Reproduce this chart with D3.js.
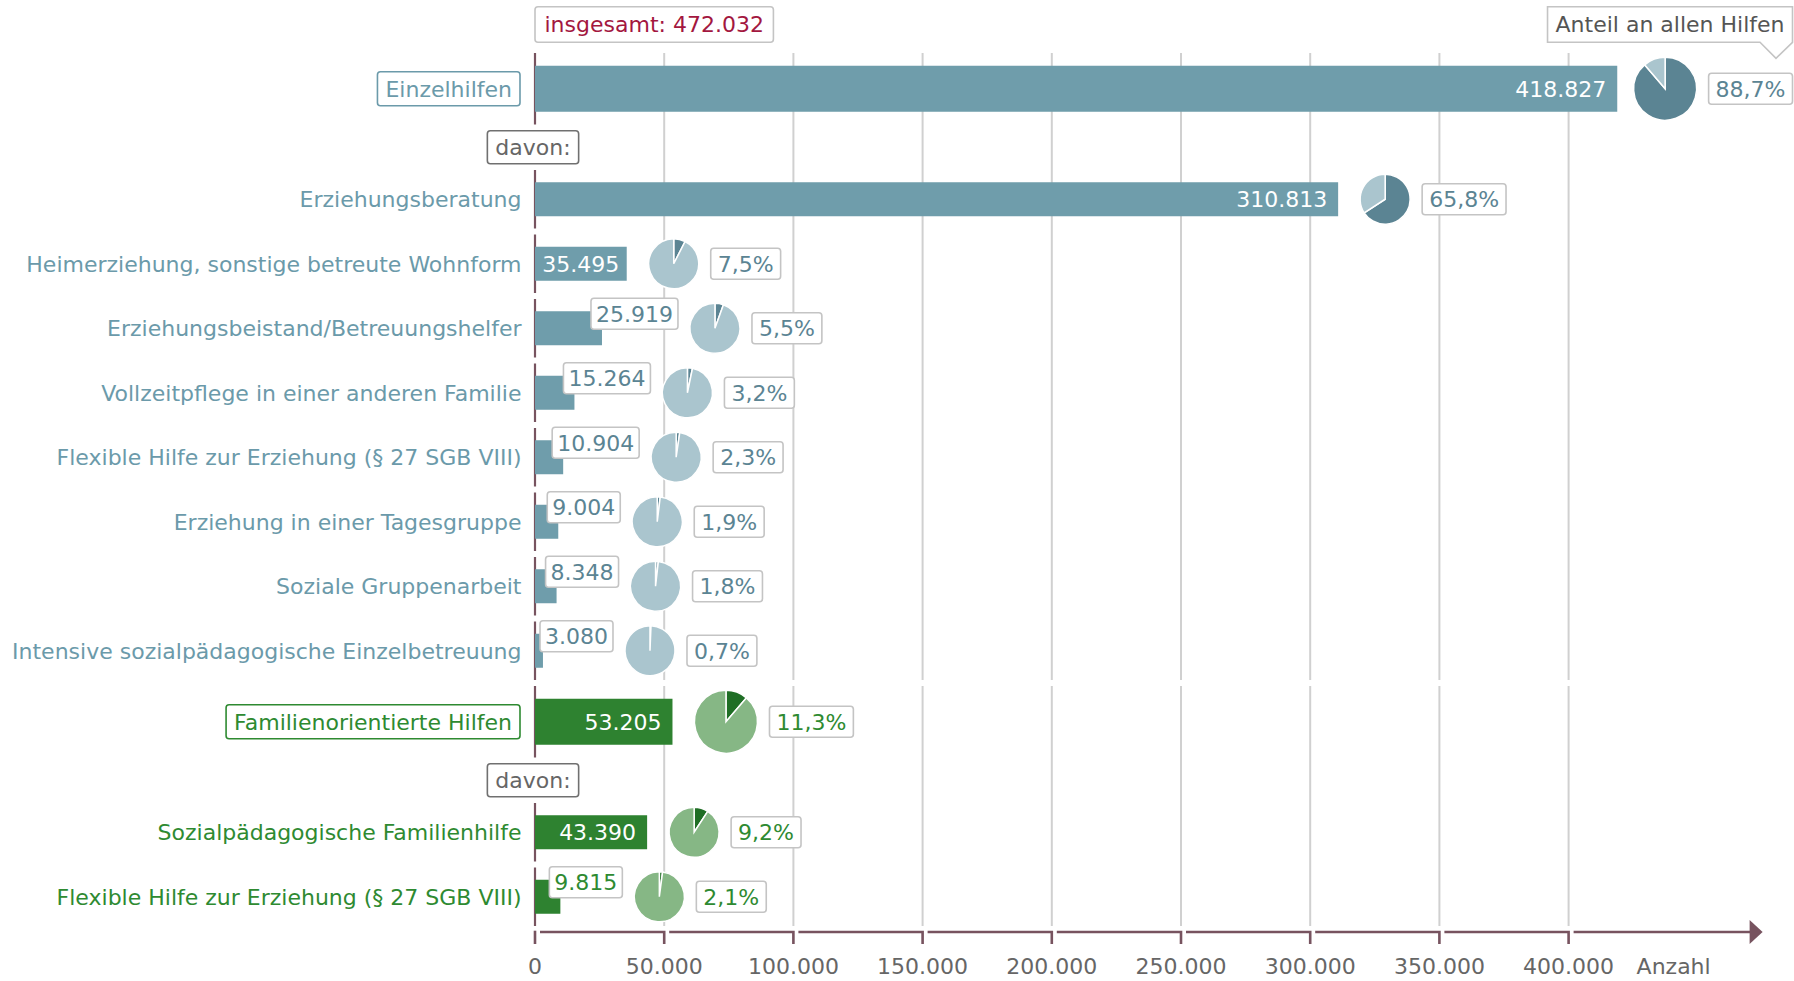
<!DOCTYPE html>
<html>
<head>
<meta charset="utf-8">
<script src="https://cdn.jsdelivr.net/npm/d3@7"></script>
<style>
  body { margin: 0; background: #fff; }
  svg { display: block; font-family: "DejaVu Sans", Verdana, sans-serif; }
</style>
</head>
<body>
<svg id="chart"></svg>
<script>
/**
 * DATA
 * */
const labels = [
  "Einzelhilfen",
  "Erziehungsberatung",
  "Heimerziehung, sonstige betreute Wohnform",
  "Erziehungsbeistand/Betreuungshelfer",
  "Vollzeitpflege in einer anderen Familie",
  "Flexible Hilfe zur Erziehung (§ 27 SGB VIII)",
  "Erziehung in einer Tagesgruppe",
  "Soziale Gruppenarbeit",
  "Intensive sozialpädagogische Einzelbetreuung",
  "Familienorientierte Hilfen",
  "Sozialpädagogische Familienhilfe",
  "Flexible Hilfe zur Erziehung (§ 27 SGB VIII)"
];
const values = [418827, 310813, 35495, 25919, 15264, 10904, 9004, 8348, 3080, 53205, 43390, 9815];
const groups = ["E", "E", "E", "E", "E", "E", "E", "E", "E", "F", "F", "F"];
const levels = ["main", "sub", "sub", "sub", "sub", "sub", "sub", "sub", "sub", "main", "sub", "sub"];
const total = 472032;
const xTicks = [0, 50000, 100000, 150000, 200000, 250000, 300000, 350000, 400000];
const totalLabel = "insgesamt: ";
const shareTitle = "Anteil an allen Hilfen";
const subHeading = "davon:";
const axisTitle = "Anzahl";

/**
 * CONSTANTS
 * */
const width = 1794,
  height = 981,
  topY = 53,
  bandMain = 71.5,
  bandDavon = 45.5,
  bandSub = 64.5,
  rowGap = 6,
  fontSize = 22;

const colors = {
  E: { bar: "#6f9dab", text: "#6b9aaa", dark: "#5b8493", light: "#aac5ce", label: "#5b8493" },
  F: { bar: "#2e8230", text: "#2e8a31", dark: "#1f6e25", light: "#86b785", label: "#2e8a31" }
};
const axisColor = "#77535f",
  gridColor = "#d0d0d0",
  boxStroke = "#c4c4c4",
  grayText = "#666";

const de = d3.formatLocale({ decimal: ",", thousands: ".", grouping: [3], currency: ["", " €"] });
const fmtNum = de.format(",");
const fmtPct = de.format(".1%");

const svg = d3.select("#chart").attr("width", width).attr("height", height);

const xScale = d3.scaleLinear().domain([0, 400000]).range([535, 1568.6]);
const x0 = xScale(0);

// row layout
let yPos = topY;
const rows = labels.map((label, i) => {
  const r = { label, value: values[i], group: groups[i], level: levels[i], share: values[i] / total };
  if (r.level === "sub" && levels[i - 1] === "main") {
    r.davonY = yPos + bandDavon / 2;
    yPos += bandDavon;
  }
  const band = r.level === "main" ? bandMain : bandSub;
  r.top = yPos;
  r.bottom = yPos + band - (r.level === "sub" ? rowGap : 0);
  r.cy = (r.top + r.bottom) / 2;
  yPos += band;
  return r;
});
const axisY = yPos;

// helpers
function addText(parent, str, attrs) {
  const t = parent.append("text").text(str).attr("font-size", fontSize);
  Object.entries(attrs || {}).forEach(([k, v]) => t.attr(k, v));
  return t;
}
function boxRect(parent, x, y, w, h, stroke) {
  return parent.append("rect")
    .attr("x", x).attr("y", y).attr("width", w).attr("height", h)
    .attr("rx", 3).attr("fill", "#fff")
    .attr("stroke", stroke).attr("stroke-width", 1.6);
}

/**
 * GRID
 * */
const gridG = svg.append("g");
d3.groups(rows, d => d.group).forEach(([g, rs]) => {
  const y1 = d3.min(rs, d => d.top), y2 = d3.max(rs, d => d.bottom);
  gridG.append("g").selectAll("line")
    .data(xTicks.slice(1))
    .join("line")
    .attr("x1", d => xScale(d)).attr("x2", d => xScale(d))
    .attr("y1", y1).attr("y2", y2)
    .attr("stroke", gridColor).attr("stroke-width", 2);
});

// zero line, one segment per row
svg.append("g").selectAll("line")
  .data(rows)
  .join("line")
  .attr("x1", x0).attr("x2", x0)
  .attr("y1", d => d.top).attr("y2", d => d.bottom)
  .attr("stroke", axisColor).attr("stroke-width", 2.2);

/**
 * ROWS
 * */
const pie = d3.pie().sort(null).value(d => d);
let einzelPctRight = width - 2;

rows.forEach((r, i) => {
  const c = colors[r.group];
  const g = svg.append("g");
  const bh = r.level === "main" ? 46 : 34;
  const pr = r.level === "main" ? 31.5 : 25;
  const xe = xScale(r.value);

  // category label
  if (r.level === "main") {
    const t = addText(g, r.label, { x: x0 - 23, y: r.cy, dy: "0.36em", "text-anchor": "end", fill: c.text });
    const tw = t.node().getComputedTextLength();
    boxRect(g, x0 - 23 - tw - 8, r.cy - 17, tw + 16, 34, c.text);
    t.raise();
  } else {
    addText(g, r.label, { x: x0 - 13.5, y: r.cy, dy: "0.36em", "text-anchor": "end", fill: c.text });
  }

  // davon box
  if (r.davonY) {
    const t = addText(g, subHeading, { x: x0 - 2, y: r.davonY, dy: "0.36em", "text-anchor": "middle", fill: grayText });
    const tw = t.node().getComputedTextLength();
    boxRect(g, x0 - 2 - tw / 2 - 8, r.davonY - 16.5, tw + 16, 33, "#707070");
    t.raise();
  }

  // bar
  g.append("rect")
    .attr("x", x0).attr("y", r.cy - bh / 2)
    .attr("width", xe - x0).attr("height", bh)
    .attr("fill", c.bar);

  // value label
  const vt = addText(g, fmtNum(r.value), { y: r.cy, dy: "0.36em" });
  const vw = vt.node().getComputedTextLength();
  let pieLeft;
  if (vw + 14 <= xe - x0) {
    const pad = Math.min(11, (xe - x0 - vw) / 2);
    vt.attr("x", xe - pad).attr("text-anchor", "end").attr("fill", "#fff");
    pieLeft = xe + 22;
  } else {
    const bx = Math.max(xe - 11, x0 + 5), bw = vw + 10;
    boxRect(g, bx, r.cy - 14.5 - 15.5, bw, 31, boxStroke);
    vt.raise()
      .attr("x", bx + bw / 2).attr("y", r.cy - 14.5)
      .attr("text-anchor", "middle").attr("fill", c.label);
    pieLeft = bx + bw + 12;
  }

  // percentage text (measured first so the pie + box stay inside the canvas)
  const pt = addText(g, fmtPct(r.share), { y: r.cy, dy: "0.36em", "text-anchor": "middle", fill: c.label });
  const pw = pt.node().getComputedTextLength();
  const overflow = pieLeft + 2 * pr + 12 + pw + 14 - (width - 1.5);
  if (overflow > 0) pieLeft -= overflow;

  // pie
  const cx = pieLeft + pr;
  const arc = d3.arc().innerRadius(0).outerRadius(pr);
  g.append("g")
    .attr("transform", `translate(${cx},${r.cy})`)
    .selectAll("path")
    .data(pie([r.share, 1 - r.share]))
    .join("path")
    .attr("d", arc)
    .attr("fill", (d, j) => j === 0 ? c.dark : c.light)
    .attr("stroke", "#fff").attr("stroke-width", 1.5);

  // percentage box
  const px = cx + pr + 12;
  boxRect(g, px, r.cy - 15.5, pw + 14, 31, boxStroke);
  pt.raise().attr("x", px + (pw + 14) / 2);
  if (i === 0) einzelPctRight = px + pw + 14;
});

/**
 * HEADER BOXES
 * */
const head = svg.append("g");
{
  const t = addText(head, totalLabel + fmtNum(total), { x: x0 + 9.5, y: 24.5, dy: "0.36em", fill: "#a3173f" });
  const tw = t.node().getComputedTextLength();
  boxRect(head, x0, 6.7, tw + 19, 35.6, boxStroke);
  t.raise();
}
{
  const t = addText(head, shareTitle, { y: 24.5, dy: "0.36em", "text-anchor": "middle", fill: "#555" });
  const tw = t.node().getComputedTextLength();
  const right = einzelPctRight, left = right - tw - 16, y1 = 6.7, y2 = 42.3;
  head.append("path")
    .attr("d", `M${left},${y1}H${right}V${y2}L${right - 16.5},${y2 + 16}L${right - 32.5},${y2}H${left}Z`)
    .attr("fill", "#fff").attr("stroke", boxStroke).attr("stroke-width", 1.6);
  t.raise().attr("x", (left + right) / 2);
}

/**
 * X AXIS
 * */
const axisG = svg.append("g").attr("fill", "none").attr("stroke", axisColor).attr("stroke-width", 2.6);
axisG.append("line").attr("x1", x0).attr("x2", x0).attr("y1", axisY - 1.3).attr("y2", axisY + 12);
axisG.selectAll("path.seg")
  .data(xTicks.slice(1))
  .join("path")
  .attr("class", "seg")
  .attr("d", (d, i) => `M${xScale(xTicks[i]) + 5},${axisY}H${xScale(d)}V${axisY + 12}`);
const xLast = xScale(xTicks[xTicks.length - 1]);
axisG.append("path").attr("d", `M${xLast + 5},${axisY}H${xLast + 185}`);
svg.append("path")
  .attr("d", `M${xLast + 181},${axisY - 12}L${xLast + 194},${axisY}L${xLast + 181},${axisY + 12}Z`)
  .attr("fill", axisColor);

svg.append("g").selectAll("text")
  .data(xTicks)
  .join("text")
  .attr("x", d => xScale(d)).attr("y", 974)
  .attr("text-anchor", "middle")
  .attr("font-size", fontSize).attr("fill", grayText)
  .text(d => fmtNum(d));
addText(svg, axisTitle, { x: xLast + 68, y: 974, fill: grayText });
</script>
</body>
</html>
